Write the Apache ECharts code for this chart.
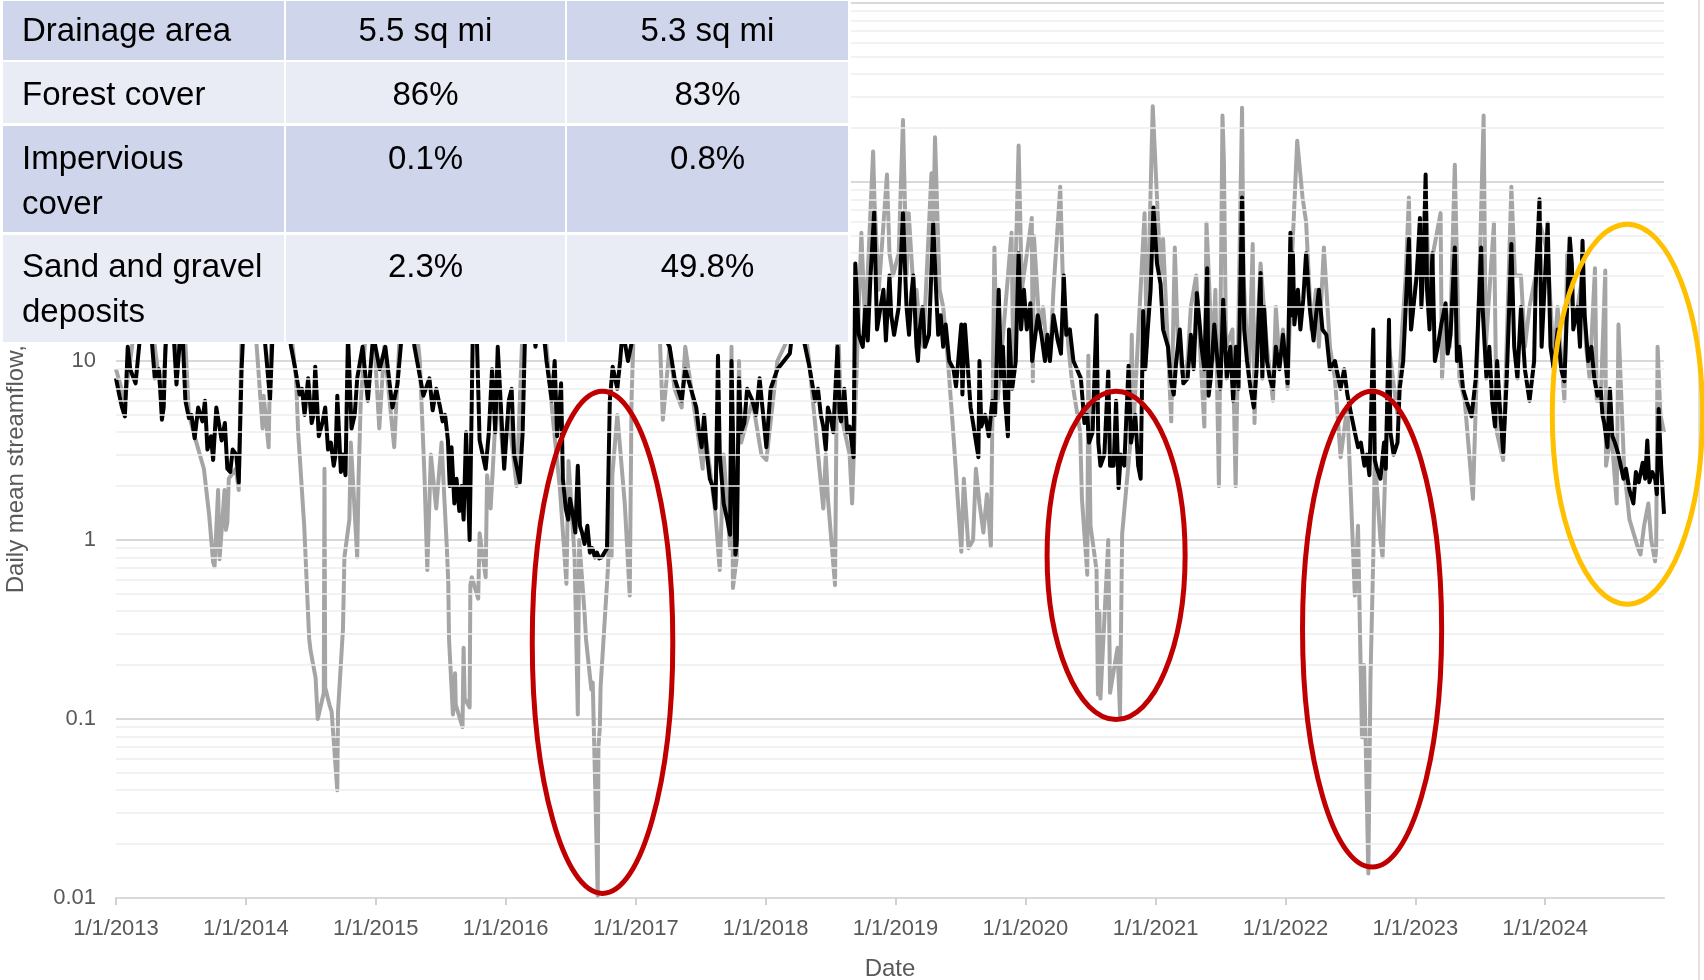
<!DOCTYPE html>
<html>
<head>
<meta charset="utf-8">
<script src="https://cdn.jsdelivr.net/npm/echarts@6/dist/echarts.min.js"></script>
<style>
html,body{margin:0;padding:0;background:#ffffff;}
#c{width:1704px;height:980px;}
</style>
</head>
<body>
<div id="c"></div>
<script>
// ---------- data ----------
const tickYears = [2013,2014,2015,2016,2017,2018,2019,2020,2021,2022,2023,2024];
const tickLabels = ['1/1/2013','1/1/2014','1/1/2015','1/1/2016','1/1/2017','1/1/2018','1/1/2019','1/1/2020','1/1/2021','1/1/2022','1/1/2023','1/1/2024'];
const xStart = '2013-01-01';
const xEnd = '2024-11-30';
const yMin = 0.01;
const yMax = 1000;

const tableRows = [
  ['Drainage area', '5.5 sq mi', '5.3 sq mi'],
  ['Forest cover', '86%', '83%'],
  ['Impervious\ncover', '0.1%', '0.8%'],
  ['Sand and gravel\ndeposits', '2.3%', '49.8%']
];

// Daily mean streamflow (cfs), gray watershed
const grayFlow = [
['2013-01-01',9],['2013-01-26',6],['2013-02-15',12],['2013-03-10',25],['2013-04-01',40],['2013-04-20',12],
['2013-05-10',6],['2013-06-05',30],['2013-06-20',9],['2013-07-10',20],['2013-07-25',5],['2013-08-15',3.5],
['2013-09-05',2.5],['2013-09-20',1.37],['2013-10-01',0.75],['2013-10-05',0.71],['2013-10-15',1.9],['2013-10-19',0.78],
['2013-11-02',1.9],['2013-11-06',1.14],['2013-11-10',1.25],['2013-11-14',2.2],['2013-12-04',2.5],['2013-12-12',1.9],
['2013-12-20',15],['2013-12-28',30],
['2014-01-10',35],['2014-01-28',15],['2014-02-17',4.2],['2014-02-20',6.4],['2014-03-06',3.3],['2014-03-10',9],
['2014-03-25',40],['2014-04-15',50],['2014-05-01',20],['2014-05-22',8],['2014-05-28',4],['2014-06-14',1.2],
['2014-06-28',0.28],['2014-07-02',0.24],['2014-07-16',0.17],['2014-07-22',0.1],['2014-08-08',0.14],['2014-08-10',2.5],
['2014-08-12',0.15],['2014-08-24',0.12],['2014-08-30',0.11],['2014-09-15',0.04],['2014-09-17',0.11],['2014-10-01',0.32],
['2014-10-05',0.8],['2014-10-19',1.3],['2014-10-23',3.5],['2014-11-10',0.8],['2014-11-14',2.3],['2014-11-20',6],
['2014-12-01',12],['2014-12-20',25],
['2015-01-11',4.2],['2015-01-25',12],['2015-02-22',3.3],['2015-03-10',15],['2015-04-01',40],['2015-04-20',20],
['2015-05-05',10],['2015-05-18',2.3],['2015-05-26',0.68],['2015-06-05',3],['2015-06-20',1.5],['2015-07-05',3.5],
['2015-07-20',0.9],['2015-07-24',0.57],['2015-07-26',0.28],['2015-08-06',0.106],['2015-08-10',0.13],['2015-08-12',0.18],
['2015-08-14',0.12],['2015-09-02',0.09],['2015-09-05',0.25],['2015-09-08',0.13],['2015-09-22',0.116],['2015-09-24',0.56],
['2015-09-28',0.62],['2015-10-16',0.47],['2015-10-20',1.09],['2015-11-06',0.62],['2015-11-10',2.3],['2015-11-20',1.5],
['2015-12-10',8],['2015-12-24',3],
['2016-01-10',5],['2016-02-01',2],['2016-02-20',20],['2016-03-15',40],['2016-04-10',30],['2016-04-25',12],
['2016-05-12',5],['2016-06-02',1.9],['2016-06-20',0.57],['2016-06-26',2.76],['2016-07-13',0.8],['2016-07-22',0.106],
['2016-07-24',0.31],['2016-07-26',1.0],['2016-08-10',0.39],['2016-08-14',0.28],['2016-08-29',0.146],['2016-09-02',0.16],
['2016-09-16',0.0103],['2016-09-18',0.07],['2016-09-22',0.09],['2016-09-24',0.15],['2016-10-15',0.71],['2016-10-21',1.7],
['2016-10-25',0.8],['2016-10-27',2.3],['2016-11-10',5],['2016-12-01',1.6],['2016-12-15',0.49],['2016-12-20',6],
['2016-12-28',20],
['2017-01-10',30],['2017-02-05',15],['2017-03-01',40],['2017-03-18',4.7],['2017-04-06',12],['2017-04-20',7],
['2017-05-10',5.5],['2017-05-20',12],['2017-06-20',4.5],['2017-07-08',2.5],['2017-07-12',4.5],['2017-08-13',1.4],
['2017-08-25',0.68],['2017-09-05',3],['2017-09-23',0.9],['2017-09-27',12],['2017-10-01',0.54],['2017-10-08',0.7],
['2017-10-12',0.8],['2017-10-18',10],['2017-10-24',3.5],['2017-11-25',6],['2017-12-20',3],
['2018-01-03',2.8],['2018-02-03',10],['2018-03-10',14],['2018-03-25',40],['2018-04-15',20],['2018-05-03',10],
['2018-06-12',1.5],['2018-06-19',3],['2018-06-25',1.7],['2018-07-15',0.56],['2018-07-22',20],['2018-08-01',5],
['2018-08-25',3],['2018-09-01',1.6],['2018-09-27',52],['2018-10-08',15],['2018-10-30',148],['2018-11-03',77],
['2018-11-15',25],['2018-12-08',110],['2018-12-15',40],['2018-12-25',30],
['2019-01-10',40],['2019-01-22',222],['2019-02-01',30],['2019-02-07',67],['2019-02-25',18],['2019-03-10',15],
['2019-04-12',112],['2019-04-16',40],['2019-04-22',178],['2019-05-05',25],['2019-05-25',12],['2019-06-13',3.8],
['2019-07-05',0.86],['2019-07-12',2.2],['2019-07-25',0.9],['2019-08-07',1.0],['2019-08-15',2.5],['2019-08-25',1.6],
['2019-09-05',1.1],['2019-09-15',1.8],['2019-09-26',0.92],['2019-10-06',43],['2019-10-15',6],['2019-11-23',52],
['2019-11-28',10],['2019-12-13',160],['2019-12-22',25],
['2020-01-19',63],['2020-01-22',7.7],['2020-01-25',50],['2020-02-10',15],['2020-03-01',12],['2020-03-20',25],
['2020-04-08',94],['2020-04-15',30],['2020-05-10',8],['2020-06-03',4],['2020-06-08',1.7],['2020-06-23',0.64],
['2020-06-26',10.7],['2020-07-02',1.2],['2020-07-19',0.68],['2020-07-23',0.137],['2020-07-27',0.4],['2020-07-30',0.13],
['2020-08-21',1.0],['2020-08-26',0.14],['2020-09-16',0.25],['2020-09-23',0.105],['2020-09-29',1.08],['2020-10-21',3.3],
['2020-10-26',14],['2020-10-30',4],['2020-12-01',67],['2020-12-07',12],['2020-12-24',265],
['2021-01-15',30],['2021-01-22',48],['2021-02-14',4.6],['2021-02-24',43],['2021-03-05',12],['2021-04-01',10],
['2021-04-25',30],['2021-05-18',4.3],['2021-05-24',59],['2021-06-10',10],['2021-06-28',2.0],['2021-07-08',235],
['2021-07-12',130],['2021-07-18',12],['2021-08-14',2.0],['2021-09-01',260],['2021-09-05',30],['2021-10-01',45],
['2021-10-06',4.5],['2021-10-23',35],['2021-11-10',12],['2021-11-27',6],['2021-12-15',10],
['2022-01-07',7],['2022-02-03',170],['2022-02-18',82],['2022-02-28',60],['2022-03-15',15],['2022-04-19',43],
['2022-05-06',12],['2022-06-05',2.9],['2022-06-24',5.6],['2022-07-15',0.49],['2022-07-24',1.2],['2022-08-04',0.079],
['2022-08-10',0.2],['2022-08-22',0.0137],['2022-08-28',0.17],['2022-09-05',0.83],['2022-09-09',3],['2022-09-25',1.0],
['2022-10-01',0.8],['2022-10-19',12],['2022-11-12',5],['2022-12-14',82],['2022-12-20',15],
['2023-01-14',48],['2023-01-30',95],['2023-02-10',20],['2023-03-13',67],['2023-03-17',8],['2023-04-22',125],
['2023-05-05',8],['2023-06-12',1.7],['2023-07-12',235],['2023-07-18',12],['2023-08-10',59],['2023-08-18',4],
['2023-09-05',2.8],['2023-09-28',94],['2023-10-08',30],['2023-11-18',20],['2023-12-16',60],
['2024-01-08',40],['2024-01-25',10],['2024-02-24',6],['2024-03-03',40],['2024-03-20',18],['2024-04-15',30],
['2024-05-20',33],['2024-05-25',6],['2024-06-18',32],['2024-06-20',2.6],['2024-07-20',1.6],['2024-07-25',16],
['2024-08-10',2.5],['2024-08-25',1.3],['2024-09-18',0.9],['2024-09-25',0.83],['2024-10-17',1.6],['2024-11-05',0.76],
['2024-11-08',0.9],['2024-11-12',12],['2024-11-20',5],['2024-11-30',4]
];
const grayFlowDetail = [
['2019-03-01',25],['2019-03-20',12],['2019-05-15',20],['2019-06-01',8],
['2020-02-20',20],['2020-03-10',10],['2020-05-01',12],['2020-05-20',6],
['2021-03-20',8],['2021-04-10',20],['2021-06-18',25],['2021-08-05',15],['2021-09-20',8],['2021-10-12',12],
['2021-12-05',20],['2021-12-25',15],
['2022-01-20',40],['2022-03-28',25],['2022-04-05',12],['2022-05-20',8],['2022-10-10',3],['2022-11-25',15],['2022-12-05',30],
['2023-01-22',30],['2023-02-20',40],['2023-03-28',20],['2023-04-08',12],['2023-05-20',6],['2023-06-25',12],
['2023-10-25',30],['2023-11-05',12],['2023-12-05',30],
['2024-02-05',20],['2024-04-01',20],['2024-04-25',12],['2024-05-05',8],['2024-06-05',6],['2024-07-05',4],
['2024-10-05',1.2],['2024-10-25',1.0]
];

// Daily mean streamflow (cfs), black watershed
const blackFlow = [
['2013-01-01',8],['2013-01-10',6.5],['2013-01-26',4.9],['2013-02-10',9],['2013-02-25',7.5],['2013-03-10',14],
['2013-03-25',22],['2013-04-08',16],['2013-04-20',8],['2013-05-10',4.7],['2013-05-20',12],['2013-06-05',25],
['2013-06-20',7.4],['2013-07-05',18],['2013-07-25',4.8],['2013-08-10',3.7],['2013-08-20',5.5],['2013-09-01',4.6],
['2013-09-15',3.2],['2013-10-01',2.8],['2013-10-10',5.5],['2013-10-25',3.6],['2013-11-10',2.5],['2013-11-25',3.2],
['2013-12-12',2.1],['2013-12-20',9],['2013-12-28',20],
['2014-01-10',25],['2014-01-25',14],['2014-02-10',30],['2014-02-25',12],['2014-03-10',6.1],['2014-03-20',20],
['2014-04-10',35],['2014-04-25',18],['2014-05-08',12],['2014-05-20',9],['2014-06-01',6.5],['2014-06-15',5.0],
['2014-06-25',8],['2014-07-05',4.5],['2014-07-15',9.3],['2014-07-25',3.8],['2014-08-05',4.6],['2014-08-20',3.2],
['2014-09-05',2.6],['2014-09-15',6.4],['2014-09-25',2.4],['2014-10-08',2.3],['2014-10-15',14],['2014-10-25',4.2],
['2014-11-10',8],['2014-11-25',12],['2014-12-10',6],['2014-12-25',14],
['2015-01-12',9],['2015-01-28',12],['2015-02-17',5.5],['2015-03-03',7.4],['2015-03-20',18],['2015-04-05',25],
['2015-04-20',12],['2015-05-15',6.4],['2015-06-10',5.3],['2015-07-08',4.6],['2015-07-23',3.6],['2015-07-28',2.0],
['2015-08-02',3.3],['2015-08-10',1.6],['2015-08-24',1.45],['2015-09-05',1.3],['2015-09-12',4],['2015-09-22',1.0],
['2015-10-01',15],['2015-10-10',20],['2015-10-20',3.6],['2015-11-06',2.5],['2015-11-24',9],['2015-12-10',12],
['2015-12-28',2.5],
['2016-01-10',6],['2016-01-25',3],['2016-02-10',2.1],['2016-02-25',15],['2016-03-10',25],['2016-03-25',12],
['2016-04-10',20],['2016-04-25',10],['2016-05-10',6],['2016-05-25',3.8],['2016-06-05',7.5],['2016-06-10',2.2],
['2016-06-18',1.5],['2016-06-25',1.3],['2016-07-05',1.5],['2016-07-15',1.1],['2016-07-22',2.6],['2016-07-28',1.2],
['2016-08-10',0.95],['2016-08-25',0.85],['2016-09-08',0.8],['2016-09-20',0.79],['2016-10-05',0.85],['2016-10-12',0.9],
['2016-10-20',6],['2016-10-28',9.3],['2016-11-10',7],['2016-11-25',15],['2016-12-10',10],['2016-12-25',14],
['2017-01-10',20],['2017-02-05',15],['2017-03-01',25],['2017-03-20',14],['2017-04-06',12],['2017-04-20',8],
['2017-05-10',6],['2017-05-20',9],['2017-06-20',5.5],['2017-07-05',3.3],['2017-07-12',5],['2017-08-13',1.5],
['2017-08-20',10.7],['2017-08-25',3],['2017-09-23',1.07],['2017-09-27',10],['2017-10-08',0.83],['2017-10-12',1.0],
['2017-10-18',8],['2017-10-24',4],['2017-11-10',7],['2017-11-25',6],['2017-12-15',8],
['2018-01-03',3.3],['2018-01-15',7],['2018-02-03',9],['2018-03-10',11],['2018-03-25',20],['2018-04-15',14],
['2018-05-03',9.5],['2018-05-20',6],['2018-06-12',4.3],['2018-06-19',3.2],['2018-06-25',5.5],['2018-07-10',4],
['2018-07-22',12],['2018-08-01',4.6],['2018-08-25',4.3],['2018-09-05',2.9],['2018-09-10',35],['2018-10-01',12],
['2018-10-08',20],['2018-11-02',68],['2018-11-10',15],['2018-11-28',25],['2018-12-05',13],['2018-12-15',30],
['2018-12-28',14],
['2019-01-10',20],['2019-01-22',67],['2019-02-01',20],['2019-02-15',24],['2019-03-01',12],['2019-03-10',15],
['2019-03-25',12],['2019-04-17',59],['2019-05-08',18],['2019-05-15',12],['2019-06-13',9],['2019-07-05',16],
['2019-07-08',6.5],['2019-07-15',16],['2019-07-31',5.5],['2019-08-22',2.9],['2019-08-25',10],['2019-08-30',4.3],
['2019-09-20',3.8],['2019-09-30',6],['2019-10-18',25],['2019-10-25',8],['2019-11-13',3.8],['2019-11-16',15],
['2019-11-25',7],['2019-12-13',40],['2019-12-20',15],
['2020-01-15',21],['2020-01-25',12],['2020-02-15',14],['2020-03-03',14],['2020-03-10',10],['2020-04-01',13],
['2020-04-18',30],['2020-04-25',14],['2020-05-25',9],['2020-06-23',5],['2020-06-28',3.5],['2020-07-19',18],
['2020-07-24',3.5],['2020-07-30',2.6],['2020-08-21',8.8],['2020-08-26',2.6],['2020-09-19',1.95],['2020-09-25',3],
['2020-10-17',9.4],['2020-10-24',3.5],['2020-11-13',2.6],['2020-11-27',19],['2020-12-03',9],['2020-12-26',72],
['2021-01-15',27],['2021-01-22',15],['2021-02-21',6.5],['2021-02-28',10],['2021-04-01',8],['2021-04-27',24],
['2021-05-10',12],['2021-05-26',33],['2021-05-30',6.4],['2021-06-24',10],['2021-07-02',7],['2021-07-30',12],
['2021-08-07',6],['2021-09-01',82],['2021-09-07',15],['2021-10-04',5.5],['2021-10-23',31],['2021-10-28',8],
['2021-11-02',20],['2021-11-27',7],['2021-12-05',12],
['2022-01-07',7.5],['2022-01-15',52],['2022-01-18',18],['2022-01-22',40],['2022-01-26',16],['2022-02-28',40],
['2022-03-21',13],['2022-03-28',18],['2022-04-26',14],['2022-05-06',9],['2022-06-24',6.5],['2022-07-24',3.3],
['2022-08-11',2.6],['2022-08-18',3],['2022-09-05',15],['2022-09-09',2.8],['2022-09-25',2.2],['2022-10-19',17],
['2022-10-23',4],['2022-11-12',3.5],['2022-11-18',7],['2022-12-14',48],['2022-12-20',15],
['2023-01-14',63],['2023-01-18',20],['2023-01-30',110],['2023-02-03',25],['2023-02-25',10],['2023-03-27',21],
['2023-04-02',11],['2023-04-22',43],['2023-04-28',10],['2023-05-15',7],['2023-06-08',4.9],['2023-07-05',43],
['2023-07-09',20],['2023-08-13',4.3],['2023-08-19',10],['2023-09-05',3.1],['2023-09-28',45],['2023-10-06',12],
['2023-11-18',6],['2023-12-16',80],['2023-12-22',12],
['2024-01-08',59],['2024-01-16',12],['2024-02-24',7.7],['2024-03-10',49],['2024-03-16',35],['2024-03-20',15],
['2024-04-15',47],['2024-04-21',18],['2024-05-10',12],['2024-05-27',6.4],['2024-06-10',5],['2024-06-24',3.3],
['2024-07-01',7],['2024-07-15',3.5],['2024-08-08',2.2],['2024-09-05',1.6],['2024-09-12',2.4],['2024-10-14',3.6],
['2024-10-20',2.1],['2024-11-10',1.8],['2024-11-15',5.4],['2024-11-22',2.6],['2024-11-30',1.4]
];
const blackFlowDetail = [
['2013-01-18',5.5],['2013-02-03',12],['2013-05-02',9],['2013-05-15',5.5],['2013-07-15',6],['2013-08-01',5],
['2013-09-08',6],['2013-09-25',3.8],['2013-11-03',4.5],['2013-11-18',2.4],['2013-12-05',3],
['2014-06-08',7],['2014-07-10',5],['2014-08-12',5.5],['2014-08-28',3.5],['2014-09-10',3],['2014-10-01',3],['2014-11-03',5],
['2015-06-01',8],['2015-06-20',7],['2015-07-01',5.5],['2015-07-15',5],['2015-08-16',2.2],['2015-08-30',2],
['2015-11-15',4],['2015-12-03',4],['2015-12-18',6],
['2016-01-18',7],['2016-02-18',4],['2016-05-18',10],['2016-06-30',1.7],['2016-07-10',1.3],['2016-08-03',1.1],
['2016-08-18',1.2],['2016-09-01',0.9],['2016-09-14',0.85],['2016-09-27',0.8],['2016-11-18',10],
['2017-06-05',7],['2017-06-28',4],['2017-07-20',3],['2017-07-28',2.2],['2017-08-05',2],['2017-09-05',1.6],
['2017-09-15',1.3],['2017-11-02',4.5],['2017-12-05',5],['2017-12-25',5],
['2018-05-28',7],['2018-06-05',5],['2018-07-03',4.8],['2018-07-28',5],['2018-08-10',7],['2018-08-18',4],
['2018-09-20',14],['2018-10-15',13],['2018-10-22',28],['2018-11-20',20],['2018-12-20',18],
['2019-01-30',25],['2019-02-08',14],['2019-02-20',30],['2019-03-05',10],['2019-03-18',20],['2019-04-05',14],
['2019-04-25',25],['2019-05-01',14],['2019-05-22',16],['2019-06-01',10],['2019-06-20',7.2],['2019-06-28',11],
['2019-09-10',5],['2019-10-08',5],['2019-10-30',12],['2019-11-05',6],['2019-12-05',10],['2019-12-28',25],
['2020-01-05',15],['2020-01-20',10],['2020-02-05',18],['2020-02-25',10],['2020-03-20',18],['2020-04-10',11],
['2020-05-05',15],['2020-05-15',10],['2020-06-05',8],['2020-06-15',4.5],['2020-07-08',4],['2020-08-10',3],
['2020-09-05',2.6],['2020-09-12',6],['2020-10-05',2.6],['2020-11-05',5],['2020-11-20',2.2],['2020-12-10',15],['2020-12-18',25],
['2021-01-05',35],['2021-02-05',12],['2021-02-12',8],['2021-03-10',15],['2021-03-20',7.5],['2021-04-10',14],
['2021-04-18',9],['2021-05-05',16],['2021-05-18',9],['2021-06-05',8],['2021-06-15',16],['2021-07-10',22],
['2021-07-20',8],['2021-08-15',12],['2021-08-22',7],['2021-09-15',10],['2021-09-25',7],['2021-10-12',9],
['2021-11-10',10],['2021-11-18',8],['2021-12-15',9],['2021-12-25',14],
['2022-02-05',25],['2022-02-12',15],['2022-02-20',22],['2022-03-10',20],['2022-04-05',25],['2022-04-15',15],
['2022-05-20',10],['2022-06-05',7],['2022-06-15',9],['2022-07-05',5],['2022-07-15',4],['2022-08-01',3.5],
['2022-08-25',2.3],['2022-09-15',2.5],['2022-10-05',3.5],['2022-10-10',2.5],['2022-11-01',3],['2022-11-28',10],['2022-12-05',20],
['2023-01-05',30],['2023-01-24',35],['2023-02-10',15],['2023-02-18',40],['2023-03-05',12],['2023-03-15',16],
['2023-04-10',14],['2023-05-05',12],['2023-05-25',6],['2023-06-20',8],['2023-07-20',8],['2023-07-28',12],
['2023-08-05',6],['2023-08-28',5],['2023-09-15',8],['2023-10-15',8],['2023-10-25',20],['2023-11-05',9],
['2023-12-01',10],['2023-12-05',25],
['2024-01-25',9],['2024-02-05',15],['2024-02-15',9],['2024-04-01',20],['2024-04-08',12],['2024-05-01',10],
['2024-05-18',8],['2024-06-05',7],['2024-06-15',4.5],['2024-07-08',3.8],['2024-07-25',3],['2024-08-15',2.5],
['2024-08-25',1.9],['2024-09-20',2.1],['2024-10-01',2.7],['2024-10-08',2.2],['2024-10-28',2.4],['2024-11-05',2.2]
];

// Annotation ellipses, given as data-space bounding boxes
const droughtEllipses = [
  {left:'2016-03-16', right:'2017-04-15', top:6.77, bottom:0.0106},
  {left:'2020-03-02', right:'2021-03-25', top:6.77, bottom:0.0992},
  {left:'2022-02-18', right:'2023-03-16', top:6.77, bottom:0.0149}
];
const recentEllipse = {left:'2024-01-21', right:'2025-03-18', top:58.1, bottom:0.438};

// ---------- chart ----------
const FONT = '"Liberation Sans", Arial, sans-serif';
const AXIS_TXT = '#595959';
const parseT = s => { const p = s.split('-').map(Number); return new Date(p[0], p[1]-1, p[2]).getTime(); };
const toSeries = arr => arr.map(d => [parseT(d[0]), d[1]]).sort((a,b)=>a[0]-b[0]);

const tickValues = tickYears.map(y => new Date(y,0,1).getTime());
const minorGrid = [];
for (let k=-2;k<=2;k++) for (let m=2;m<=9;m++) minorGrid.push(+(m*Math.pow(10,k)).toPrecision(3));

const chart = echarts.init(document.getElementById('c'), null, {renderer:'canvas', width:1704, height:980});

const option = {
  animation:false,
  backgroundColor:'#ffffff',
  grid:{left:116, right:40, top:3, bottom:82, containLabel:false, outerBoundsMode:'none'},
  xAxis:{
    type:'value',
    min: parseT(xStart), max: parseT(xEnd),
    name:'Date', nameLocation:'middle', nameGap:59,
    nameTextStyle:{fontFamily:FONT, fontSize:24, color:AXIS_TXT},
    axisLine:{show:true, onZero:false, lineStyle:{color:'#D9D9D9', width:2}},
    axisTick:{show:true, length:7, inside:false, lineStyle:{color:'#D0D0D0', width:2}, customValues:tickValues},
    axisLabel:{show:true, margin:20, fontFamily:FONT, fontSize:22, color:AXIS_TXT, hideOverlap:false,
      customValues:tickValues,
      formatter:function(v){ const i = tickValues.indexOf(v); return i>=0 ? tickLabels[i] : ''; }},
    splitLine:{show:false}
  },
  yAxis:{
    type:'log', logBase:10, min:yMin, max:yMax,
    name:'Daily mean streamflow, cfs', nameLocation:'middle', nameGap:88,
    nameTextStyle:{fontFamily:FONT, fontSize:24, color:AXIS_TXT},
    axisLine:{show:false}, axisTick:{show:false},
    axisLabel:{margin:20, fontFamily:FONT, fontSize:22, color:AXIS_TXT,
      formatter:function(v){ return String(+(+v).toPrecision(6)); }},
    splitLine:{show:true, lineStyle:{color:'#D9D9D9', width:2}}
  },
  series:[
    {
      name:'minor grid', type:'line', data:[], z:1, silent:true,
      markLine:{silent:true, symbol:['none','none'], label:{show:false}, animation:false,
        emphasis:{disabled:true},
        lineStyle:{color:'#EEEEEE', width:1.5, type:'solid'},
        data: minorGrid.map(v=>({yAxis:v}))}
    },
    {
      name:'Gray watershed', type:'line', z:3, data: toSeries(grayFlow.concat(grayFlowDetail)),
      showSymbol:false, symbol:'none', silent:true,
      lineStyle:{color:'#A5A5A5', width:4, join:'round'}
    },
    {
      name:'Black watershed', type:'line', z:4, data: toSeries(blackFlow.concat(blackFlowDetail)),
      showSymbol:false, symbol:'none', silent:true,
      lineStyle:{color:'#000000', width:4, join:'round'}
    }
  ]
};
chart.setOption(option);

// ---------- overlay graphics (table + annotation ellipses) ----------
const toPx = (d, v) => chart.convertToPixel({gridIndex:0}, [parseT(d), v]);
function ellipseOf(a, color){
  const p1 = toPx(a.left, a.top), p2 = toPx(a.right, a.bottom);
  return {type:'ellipse', z:60, silent:true,
    shape:{cx:(p1[0]+p2[0])/2, cy:(p1[1]+p2[1])/2, rx:Math.abs(p2[0]-p1[0])/2, ry:Math.abs(p2[1]-p1[1])/2},
    style:{fill:'none', stroke:color, lineWidth:5}};
}

const colBounds = [[3,284],[286,565],[567,848]];
const rowBounds = [[1,60],[62,123],[126,232],[235,342]];
const rowFill = ['#CFD5EA','#E9EBF5','#CFD5EA','#E9EBF5'];
const firstLineCenter = [32, 96, 160, 268];
const lineStep = 45;
const tableEls = [];
tableEls.push({type:'rect', z:90, silent:true, shape:{x:0,y:0,width:851,height:344}, style:{fill:'#ffffff'}});
tableRows.forEach((row, r) => {
  row.forEach((cell, c) => {
    const [x0,x1] = colBounds[c], [y0,y1] = rowBounds[r];
    tableEls.push({type:'rect', z:91, silent:true, shape:{x:x0, y:y0, width:x1-x0, height:y1-y0}, style:{fill:rowFill[r]}});
    cell.split('\n').forEach((line, li) => {
      tableEls.push({type:'text', z:92, silent:true,
        style:{text:line, x: c===0 ? 22 : (x0+x1)/2, y: firstLineCenter[r] + li*lineStep,
          textAlign: c===0 ? 'left' : 'center', textVerticalAlign:'middle',
          font:'33px ' + FONT, fill:'#000000'}});
    });
  });
});

const graphics = [
  {type:'line', z:5, silent:true, shape:{x1:1699, y1:0, x2:1699, y2:980}, style:{stroke:'#D9D9D9', lineWidth:1.5}},
  ...tableEls,
  ...droughtEllipses.map(e => ellipseOf(e, '#C00000')),
  ellipseOf(recentEllipse, '#FFC000')
];
chart.setOption({graphic: graphics});
</script>
</body>
</html>
